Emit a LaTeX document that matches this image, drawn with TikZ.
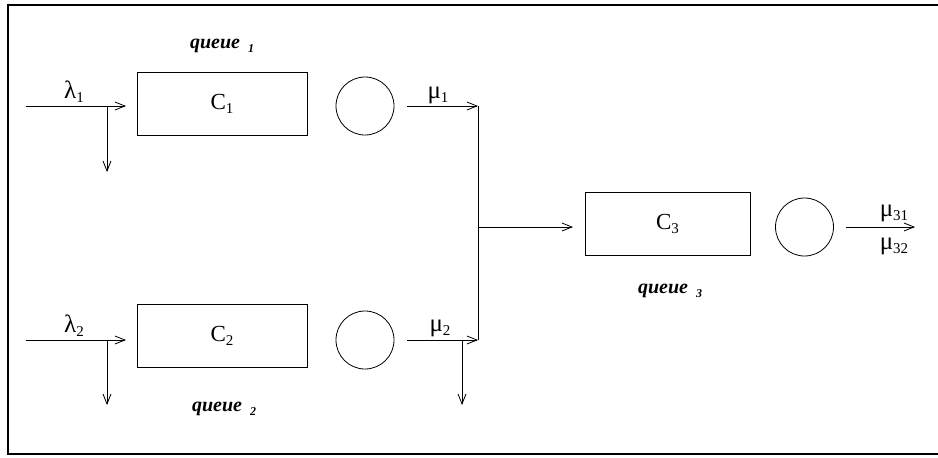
\documentclass[tikz,border=0pt]{standalone}
\usepackage{fontspec}
\setmainfont{Liberation Serif}
\usetikzlibrary{arrows.meta}
\newcommand{\sbs}[1]{\raisebox{-4pt}{\fontsize{15}{15}\selectfont #1}}
\newcommand{\qlab}[1]{{\fontsize{20}{24}\selectfont\bfseries\itshape queue}\hspace{8pt}\raisebox{-4pt}{\fontsize{12}{12}\selectfont\bfseries\itshape #1}}
\tikzset{
  box/.style={draw, line width=0.8pt, minimum width=170pt, minimum height=63pt, inner sep=0pt, font=\fontsize{23}{26}\selectfont},
  srv/.style={draw, circle, line width=0.8pt, minimum size=58pt, inner sep=0pt},
  flow/.style={line width=0.8pt, -{Straight Barb[length=10pt,width=8pt,line width=0.8pt]}},
  wire/.style={line width=0.8pt},
  lab/.style={font=\fontsize{25}{28}\selectfont, inner sep=0pt},
  qtxt/.style={inner sep=0pt}
}
\begin{document}
\begin{tikzpicture}[x=1pt,y=-1pt]
\useasboundingbox (0,0) rectangle (938,458);
\draw[line width=2pt] (938,5) -- (8,5) -- (8,454) -- (938,454);
% boxes and servers
\node[box] (c1) at (222,103.5) {C\sbs{1}};
\node[box] (c2) at (222,336) {C\sbs{2}};
\node[box, minimum width=165pt] (c3) at (667.5,223.5) {C\sbs{3}};
\node[srv] (s1) at (365,106) {};
\node[srv] (s2) at (365,340) {};
\node[srv] (s3) at (804.5,227) {};
% coordinates
\coordinate (i1) at (26,106);
\coordinate (i1e) at (126,106);
\coordinate (b1) at (107,106);
\coordinate (b1e) at (107,172);
\coordinate (i2) at (26,340);
\coordinate (i2e) at (126,340);
\coordinate (b2) at (107,340);
\coordinate (b2e) at (107,405);
\coordinate (o1) at (407,106);
\coordinate (j1) at (478,106);
\coordinate (o2) at (407,340);
\coordinate (j2) at (478,340);
\coordinate (b3) at (462,340);
\coordinate (b3e) at (462,405);
\coordinate (jm) at (478,227);
\coordinate (jme) at (573,227);
\coordinate (o3) at (846,227);
\coordinate (o3e) at (915,227);
% connectors
\draw[flow] (i1) -- (i1e);
\draw[flow] (b1) -- (b1e);
\draw[flow] (i2) -- (i2e);
\draw[flow] (b2) -- (b2e);
\draw[flow] (o1) -- (j1);
\draw[flow] (o2) -- (j2);
\draw[flow] (b3) -- (b3e);
\draw[wire] (j1) -- (j2);
\draw[flow] (jm) -- (jme);
\draw[flow] (o3) -- (o3e);
% labels
\node[lab, anchor=base] (l1) at (74,98) {λ\sbs{1}};
\node[lab, anchor=base] (l2) at (74,332) {λ\sbs{2}};
\node[lab, anchor=base] (m1) at (438,98) {μ\sbs{1}};
\node[lab, anchor=base] (m2) at (440,331) {μ\sbs{2}};
\node[lab, anchor=base] (m31) at (894,216) {μ\sbs{31}};
\node[lab, anchor=base] (m32) at (894,249) {μ\sbs{32}};
\node[qtxt, anchor=base] (q1) at (222,48) {\qlab{1}};
\node[qtxt, anchor=base] (q2) at (224,411) {\qlab{2}};
\node[qtxt, anchor=base] (q3) at (670,293) {\qlab{3}};
\end{tikzpicture}
\end{document}
